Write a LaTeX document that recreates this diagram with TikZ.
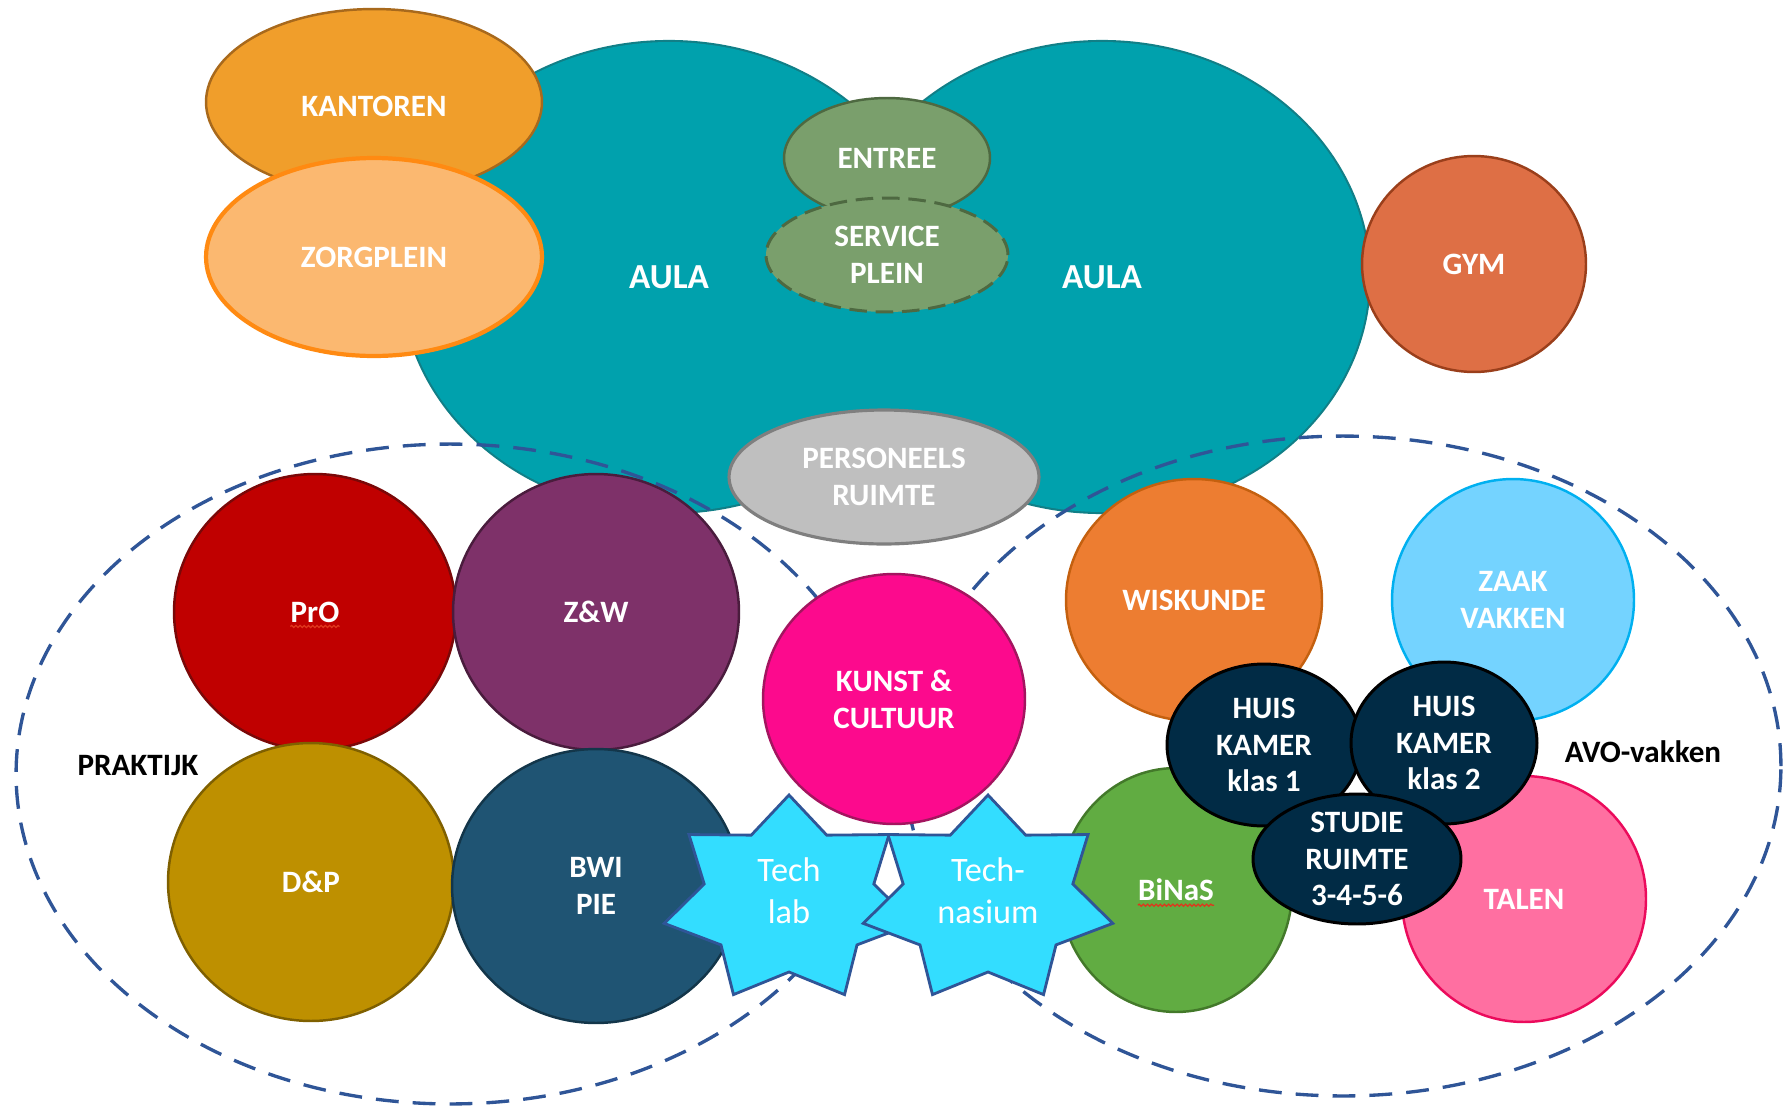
\documentclass[tikz,border=0pt]{standalone}
\usepackage{fontspec}
\setmainfont{Carlito}
\usetikzlibrary{shapes.geometric,decorations.pathmorphing}

\definecolor{aula}{HTML}{00A1AD}
\definecolor{aularand}{HTML}{117F87}
\definecolor{kantoor}{HTML}{F09E2B}
\definecolor{kantoorrand}{HTML}{A8691C}
\definecolor{zorg}{HTML}{FBB870}
\definecolor{zorgrand}{HTML}{FF8A12}
\definecolor{entree}{HTML}{7A9F6C}
\definecolor{entreerand}{HTML}{4E6941}
\definecolor{personeel}{HTML}{BFBFBF}
\definecolor{personeelrand}{HTML}{7F7F7F}
\definecolor{gym}{HTML}{DE6F45}
\definecolor{gymrand}{HTML}{9A3F1B}
\definecolor{pro}{HTML}{C00000}
\definecolor{prorand}{HTML}{7A0808}
\definecolor{zw}{HTML}{7E3169}
\definecolor{zwrand}{HTML}{4A1C3D}
\definecolor{dp}{HTML}{BE9000}
\definecolor{dprand}{HTML}{7F6000}
\definecolor{bwi}{HTML}{1F5473}
\definecolor{bwirand}{HTML}{13364A}
\definecolor{kunst}{HTML}{FC0A8D}
\definecolor{kunstrand}{HTML}{A3155F}
\definecolor{wisk}{HTML}{ED7D31}
\definecolor{wiskrand}{HTML}{C4600F}
\definecolor{zaak}{HTML}{74D3FF}
\definecolor{zaakrand}{HTML}{00B0F0}
\definecolor{binas}{HTML}{61AC42}
\definecolor{binasrand}{HTML}{43792A}
\definecolor{talen}{HTML}{FF6FA1}
\definecolor{talenrand}{HTML}{EB0B5C}
\definecolor{huis}{HTML}{012B45}
\definecolor{zonerand}{HTML}{2F5597}
\definecolor{sterblauw}{HTML}{33DDFF}
\definecolor{spelrood}{HTML}{E0361C}

\tikzset{
  kamer/.style 2 args={ellipse, fill=#1, draw=#2, line width=1.4pt, inner sep=0pt, outer sep=0pt},
  maat/.style 2 args={minimum width=#1cm, minimum height=#2cm},
  tag/.style={text=white, font=\fontsize{17.7}{21}\selectfont\bfseries, align=center, inner sep=0pt},
  zwart/.style={tag, text=black},
  zone/.style={ellipse, draw=zonerand, line width=1.9pt, dash pattern=on 13pt off 8pt, inner sep=0pt},
  ster/.style={fill=sterblauw, draw=zonerand, line width=1.6pt, line join=miter},
  stertag/.style={text=white, font=\fontsize{19.5}{24}\selectfont, align=center, inner sep=0pt},
  kronkel/.style={draw=spelrood, line width=0.7pt, decorate, decoration={snake, amplitude=0.6pt, segment length=2.4pt}},
}

% zevenpuntige ster rond een coordinaat
\newcommand\sterpad[1]{%
  \draw[ster, shift={(#1)}] (270:128 and 105)
    \foreach \k in {1,...,6} {-- ({\k*51.4286+244.2857}:87 and 72) -- ({\k*51.4286+270}:128 and 105)}
    -- (604.2857:87 and 72) -- cycle;}

\begin{document}
\begin{tikzpicture}[x=0.02cm, y=-0.02cm]
  \useasboundingbox (0,0) rectangle (1787,1112);

  % aula, twee lobben als een vlak
  \node[kamer={aula}{aularand}, line width=2.4pt, maat={10.68}{9.4}] (aulaL) at (669,277) {};
  \node[kamer={aula}{aularand}, line width=2.4pt, maat={10.68}{9.4}] (aulaR) at (1102,277) {};
  \fill[aula] (aulaL.center) ellipse [x radius=5.34cm, y radius=4.7cm]
              (aulaR.center) ellipse [x radius=5.34cm, y radius=4.7cm];
  \node[tag, font=\fontsize{20}{24}\selectfont\bfseries] (aulaL-t) at (aulaL) {AULA};
  \node[tag, font=\fontsize{20}{24}\selectfont\bfseries] (aulaR-t) at (aulaR) {AULA};

  \node[kamer={kantoor}{kantoorrand}, maat={6.72}{3.72}, label={[tag, yshift=-0.08cm]center:KANTOREN}] (kantoren) at (374,102) {};
  \node[kamer={zorg}{zorgrand}, line width=2.4pt, maat={6.72}{3.96}, label={[tag]center:ZORGPLEIN}] (zorgplein) at (374,257) {};
  \node[kamer={entree}{entreerand}, maat={4.12}{2.4}, label={[tag]center:ENTREE}] (entree) at (887,158) {};
  \node[kamer={entree}{entreerand}, line width=1.7pt, dash pattern=on 10pt off 5pt, maat={4.84}{2.28},
        label={[tag]center:SERVICE\\PLEIN}] (service) at (887,255) {};
  \node[kamer={gym}{gymrand}, maat={4.48}{4.32}, label={[tag]center:GYM}] (gym) at (1474,264) {};

  % de twee clusters
  \node[zone, maat={17.36}{13.2}] (praktijk) at (450,774) {};
  \node[zone, maat={17.52}{13.2}] (avo) at (1343,766) {};

  \node[kamer={personeel}{personeelrand}, line width=1.8pt, maat={6.2}{2.68},
        label={[tag]center:PERSONEELS\\RUIMTE}] (personeel) at (884,477) {};

  % praktijk
  \node[kamer={pro}{prorand}, maat={5.64}{5.52}, label={[tag, name=pro-t]center:PrO}] (pro) at (315,612) {};
  \node[kamer={zw}{zwrand}, maat={5.72}{5.52}, label={[tag]center:Z\&W}] (zw) at (596,612) {};
  \node[kamer={dp}{dprand}, maat={5.72}{5.56}, label={[tag]center:D\&P}] (dp) at (311,882) {};
  \node[kamer={bwi}{bwirand}, maat={5.76}{5.48}, label={[tag]center:BWI\\PIE}] (bwi) at (596,886) {};
  \node[kamer={kunst}{kunstrand}, maat={5.24}{5.0}, label={[tag]center:KUNST \&\\CULTUUR}] (kunst) at (894,699) {};

  % avo-vakken
  \node[kamer={wisk}{wiskrand}, maat={5.12}{4.84}, label={[tag]center:WISKUNDE}] (wiskunde) at (1194,600) {};
  \node[kamer={zaak}{zaakrand}, maat={4.84}{4.84}, label={[tag]center:ZAAK\\VAKKEN}] (zaak) at (1513,600) {};
  \node[kamer={binas}{binasrand}, maat={4.64}{4.88}, label={[tag, name=binas-t]center:BiNaS}] (binas) at (1176,890) {};
  \node[kamer={talen}{talenrand}, maat={4.88}{4.92}, label={[tag]center:TALEN}] (talen) at (1524,899) {};
  \node[kamer={huis}{black}, line width=1.7pt, maat={3.88}{3.24}, label={[tag]center:HUIS\\KAMER\\klas 1}] (klas1) at (1264,745) {};
  \node[kamer={huis}{black}, line width=1.7pt, maat={3.72}{3.24}, label={[tag]center:HUIS\\KAMER\\klas 2}] (klas2) at (1444,743) {};
  \node[kamer={huis}{black}, line width=1.7pt, maat={4.16}{2.6}, label={[tag]center:STUDIE\\RUIMTE\\3-4-5-6}] (studie) at (1357,859) {};

  % sterren
  \coordinate (techlab) at (789,900);
  \coordinate (technasium) at (988,900);
  \sterpad{techlab}
  \node[stertag, yshift=0.18cm] (techlab-t) at (techlab) {Tech\\lab};
  \sterpad{technasium}
  \node[stertag, yshift=0.18cm] (technasium-t) at (technasium) {Tech-\\nasium};

  \node[zwart] (praktijk-t) at (138,766) {PRAKTIJK};
  \node[zwart] (avo-t) at (1643,752) {AVO-vakken};

  % spellingslijntjes
  \draw[kronkel] ([yshift=-2.5pt]pro-t.base west) -- ([yshift=-2.5pt]pro-t.base east);
  \draw[kronkel] ([yshift=-2.5pt]binas-t.base west) -- ([yshift=-2.5pt]binas-t.base east);
\end{tikzpicture}
\end{document}
